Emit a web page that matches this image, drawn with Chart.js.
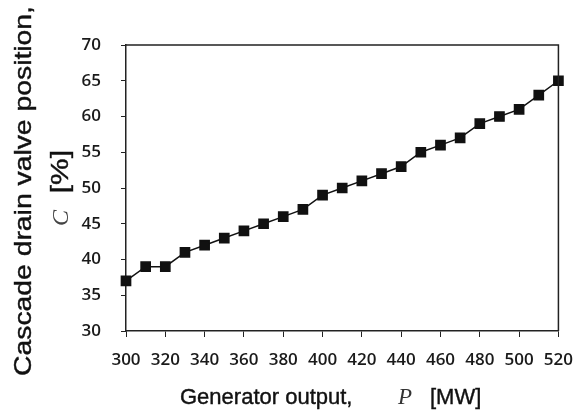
<!DOCTYPE html>
<html lang="en">
<head>
    <meta charset="UTF-8">
    <title>Cascade drain valve position</title>
    <style>
        body {
            margin: 0;
            background-color: #fff;
        }
        .chart-box {
            width: 586px;
            height: 412px;
        }
    </style>
    <script src="https://cdn.jsdelivr.net/npm/chart.js"></script>
</head>
<body>
<div class="chart-box"><canvas id="chart"></canvas></div>

<script>
    // generator output [MW]
    const outputMW = [300, 310, 320, 330, 340, 350, 360, 370, 380, 390, 400, 410,
                      420, 430, 440, 450, 460, 470, 480, 490, 500, 510, 520];
    // valve position [%]
    const valvePos = [37, 39, 39, 41, 42, 43, 44, 45, 46, 47, 49, 50,
                      51, 52, 53, 55, 56, 57, 59, 60, 61, 63, 65];
    const xTicks = [300, 320, 340, 360, 380, 400, 420, 440, 460, 480, 500, 520];
    const yTicks = [30, 35, 40, 45, 50, 55, 60, 65, 70];

    const points = outputMW.map((p, i) => ({ x: p, y: valvePos[i] }));

    // frame on top/right + axis titles with italic symbols
    const titlesPlugin = {
        id: 'titles',
        afterDraw(chart) {
            const ctx = chart.ctx;
            const a = chart.chartArea;
            ctx.save();
            ctx.strokeStyle = '#222';
            ctx.lineWidth = 1.5;
            ctx.beginPath();
            ctx.moveTo(a.left, a.top);
            ctx.lineTo(a.right, a.top);
            ctx.lineTo(a.right, a.bottom);
            ctx.stroke();

            ctx.fillStyle = '#111';
            ctx.strokeStyle = '#111';
            ctx.lineWidth = 0.4;
            ctx.textBaseline = 'middle';

            // x title
            const xy = a.bottom + 67;
            ctx.textAlign = 'left';
            ctx.font = '22px "Liberation Sans", Arial, sans-serif';
            ctx.fillText('Generator output,', 180, xy);
            ctx.strokeText('Generator output,', 180, xy);
            ctx.fillText('[MW]', 430, xy);
            ctx.strokeText('[MW]', 430, xy);
            ctx.font = 'italic 23px "Liberation Serif", serif';
            ctx.fillStyle = '#333';
            ctx.fillText('P', 398, xy);

            // y title, two rotated lines
            ctx.fillStyle = '#111';
            ctx.translate(24, 191);
            ctx.rotate(-Math.PI / 2);
            ctx.scale(1.18, 1);
            ctx.textAlign = 'center';
            ctx.font = '24px "Liberation Sans", Arial, sans-serif';
            ctx.fillText('Cascade drain valve position,', 0, 0);
            ctx.strokeText('Cascade drain valve position,', 0, 0);
            ctx.setTransform(1, 0, 0, 1, 0, 0);

            ctx.translate(62, 188);
            ctx.rotate(-Math.PI / 2);
            ctx.textAlign = 'left';
            ctx.font = '23px "Liberation Sans", Arial, sans-serif';
            ctx.save();
            ctx.scale(1.3, 1);
            ctx.fillText('[%]', -4, 0);
            ctx.strokeText('[%]', -4, 0);
            ctx.restore();
            ctx.font = 'italic 24px "Liberation Serif", serif';
            ctx.fillStyle = '#444';
            ctx.fillText('C', -38, 0);
            ctx.restore();
        }
    };

    const tickFont = { family: '"Open Sans", sans-serif', size: 17, weight: '600' };

    new Chart(document.getElementById('chart'), {
        type: 'scatter',
        data: {
            datasets: [{
                data: points,
                showLine: true,
                clip: false,
                borderColor: '#111',
                borderWidth: 1.5,
                backgroundColor: '#111',
                pointStyle: 'rect',
                pointRadius: 6.5,
                pointHoverRadius: 6.5,
                tension: 0
            }]
        },
        options: {
            responsive: true,
            maintainAspectRatio: false,
            animation: false,
            layout: {
                padding: { top: 45, right: 24, left: 0, bottom: 0 }
            },
            plugins: {
                legend: { display: false },
                tooltip: { enabled: false }
            },
            scales: {
                x: {
                    type: 'linear',
                    min: 300,
                    max: 520,
                    afterFit: s => { s.height = 81; },
                    afterBuildTicks: s => { s.ticks = xTicks.map(v => ({ value: v })); },
                    grid: {
                        drawOnChartArea: false,
                        drawTicks: true,
                        tickLength: 6,
                        color: '#222'
                    },
                    border: { color: '#222', width: 1.5 },
                    ticks: {
                        color: '#1a1a1a',
                        font: tickFont,
                        padding: 13,
                        maxRotation: 0,
                        autoSkip: false
                    }
                },
                y: {
                    min: 30,
                    max: 70,
                    afterFit: s => { s.width = 126; },
                    afterBuildTicks: s => { s.ticks = yTicks.map(v => ({ value: v })); },
                    grid: {
                        drawOnChartArea: false,
                        drawTicks: true,
                        tickLength: 5,
                        color: '#222'
                    },
                    border: { color: '#222', width: 1.5 },
                    ticks: {
                        color: '#1a1a1a',
                        font: tickFont,
                        padding: 20
                    }
                }
            }
        },
        plugins: [titlesPlugin]
    });
</script>
</body>
</html>
